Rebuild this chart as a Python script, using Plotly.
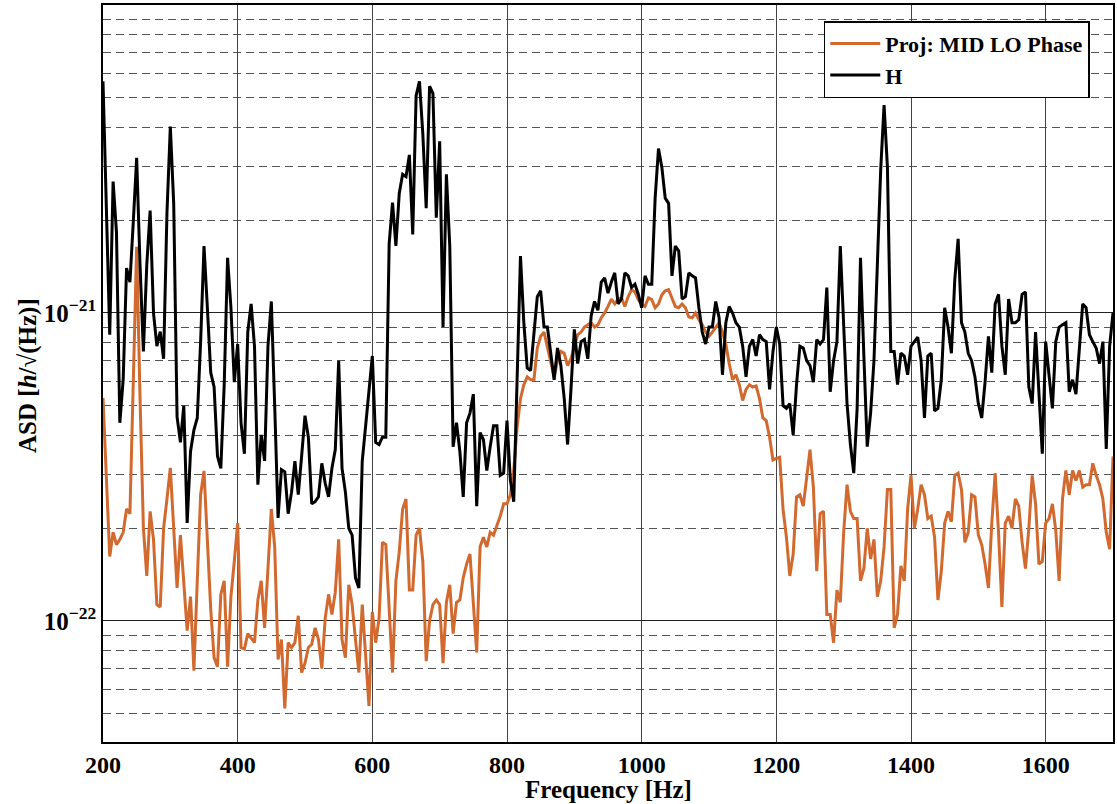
import plotly.graph_objects as go

# Frequency grid [Hz]
freq = list(range(200, 1705, 5))

# ASD values in units of 1e-22 h/sqrt(Hz)
asd_h = [
    56.5, 21.9, 8.5, 26.7, 18.3, 4.4, 6.1, 14.0, 12.6, 19.8,
    31.9, 14.3, 7.5, 14.3, 21.5, 10.0, 7.8, 8.7, 7.1, 21.2,
    40.3, 22.7, 4.6, 3.8, 5.0, 2.08, 3.55, 4.17, 4.56, 8.07,
    16.5, 10.4, 6.4, 5.75, 3.43, 3.13, 5.85, 15.1, 10.4, 5.96,
    7.93, 4.4, 3.49, 8.67, 10.7, 7.8, 2.77, 4.02, 3.31, 7.8,
    10.9, 5.0, 2.16, 3.1, 3.05, 2.23, 2.62, 3.3, 2.57, 3.43,
    4.64, 3.95, 2.4, 2.44, 2.53, 3.25, 2.8, 2.53, 3.13, 3.6,
    7.0, 3.13, 2.62, 2.0, 1.9, 1.38, 1.28, 3.3, 4.25, 5.5,
    7.25, 3.8, 3.74, 3.95, 3.95, 16.8, 22.8, 16.5, 24.5, 28.2,
    27.7, 32.6, 18.0, 50.8, 56.5, 38.1, 21.9, 54.5, 51.7, 20.4,
    36.1, 9.0, 28.2, 16.5, 3.68, 4.4, 3.55, 2.53, 4.4, 4.73,
    5.45, 2.36, 4.09, 3.88, 3.08, 3.68, 4.3, 4.3, 2.97, 3.02,
    4.47, 2.86, 2.44, 6.07, 15.3, 9.3, 6.63, 6.5, 8.67, 11.3,
    11.8, 9.0, 9.0, 7.5, 6.07, 7.7, 6.75, 5.27, 3.74, 5.65,
    8.85, 6.85, 8.07, 8.2, 7.1, 9.8, 10.9, 10.2, 12.6, 13.0,
    11.6, 12.6, 13.5, 10.7, 11.1, 13.5, 13.2, 12.1, 12.4, 11.5,
    10.4, 13.2, 12.4, 12.4, 23.6, 34.2, 29.7, 23.6, 22.7, 13.2,
    16.5, 15.9, 11.1, 11.3, 13.5, 13.2, 13.0, 10.4, 8.67, 7.93,
    9.0, 9.0, 10.9, 9.65, 6.3, 9.3, 10.5, 10.0, 9.3, 9.0,
    7.8, 6.2, 7.8, 8.2, 7.25, 8.5, 8.2, 8.07, 5.65, 7.5,
    9.0, 7.93, 5.0, 4.9, 5.08, 4.02, 5.85, 7.8, 7.7, 7.0,
    6.75, 5.96, 8.2, 7.93, 8.2, 12.1, 5.55, 7.0, 8.07, 16.5,
    8.67, 5.08, 3.74, 3.02, 4.9, 15.1, 7.25, 3.68, 4.73, 7.0,
    14.3, 29.2, 47.3, 29.7, 7.5, 7.5, 5.85, 7.4, 7.25, 6.3,
    7.8, 8.07, 8.35, 7.0, 4.56, 7.25, 7.4, 4.81, 4.9, 6.07,
    10.4, 9.0, 7.4, 12.8, 17.4, 9.3, 8.67, 7.4, 7.0, 6.2,
    5.08, 4.56, 5.96, 8.4, 6.4, 10.7, 11.5, 7.8, 6.3, 11.1,
    9.3, 9.3, 9.5, 11.5, 11.7, 5.75, 5.08, 8.67, 5.45, 3.49,
    8.07, 6.3, 4.9, 8.07, 9.0, 9.15, 9.3, 5.55, 6.07, 5.45,
    7.5, 10.7, 10.4, 8.5, 8.07, 7.7, 6.85, 8.07, 3.62, 7.8,
    10.0,
]

asd_proj = [
    5.3, 2.9, 1.62, 1.94, 1.77, 1.84, 1.94, 2.31, 2.23, 6.0,
    16.4, 5.3, 2.0, 1.40, 2.27, 1.84, 1.13, 1.11, 2.0, 2.49,
    3.14, 2.0, 1.28, 1.90, 1.33, 0.93, 1.20, 0.69, 1.35, 2.57,
    3.07, 1.84, 1.09, 0.76, 0.71, 1.22, 1.35, 0.71, 1.20, 1.56,
    2.08, 0.82, 0.81, 0.91, 0.88, 0.85, 1.17, 1.35, 0.95, 1.45,
    2.31, 1.74, 0.75, 0.87, 0.52, 0.85, 0.82, 0.85, 1.04, 0.68,
    0.73, 0.82, 0.84, 0.95, 0.87, 0.70, 1.02, 1.22, 1.05, 1.24,
    1.84, 0.87, 0.76, 1.31, 1.13, 0.87, 0.68, 1.13, 0.76, 0.53,
    1.07, 0.85, 1.02, 1.8, 1.77, 1.13, 0.68, 1.35, 1.68, 2.31,
    2.49, 1.26, 1.26, 1.9, 2.0, 1.56, 0.74, 1.0, 1.13, 1.17,
    1.13, 0.73, 1.15, 1.31, 0.91, 1.15, 1.17, 1.38, 1.53, 1.65,
    1.17, 0.79, 1.74, 1.87, 1.74, 1.94, 1.9, 2.04, 2.19, 2.4,
    2.4, 2.57, 3.08, 4.25, 5.27, 5.85, 6.2, 6.07, 6.07, 7.7,
    8.4, 8.67, 7.8, 7.0, 6.2, 7.0, 7.5, 7.4, 6.75, 7.1,
    7.8, 8.5, 8.67, 9.0, 9.15, 9.3, 9.0, 9.15, 9.65, 10.0,
    10.5, 11.1, 10.7, 11.1, 11.2, 10.5, 11.3, 11.9, 11.7, 11.05,
    10.7, 10.5, 11.2, 11.05, 10.4, 10.7, 11.45, 11.8, 11.9, 11.2,
    10.5, 10.4, 10.7, 10.4, 9.7, 9.65, 10.0, 9.5, 9.15, 8.67,
    8.4, 8.67, 9.0, 9.3, 8.67, 7.93, 6.85, 6.07, 6.3, 5.85,
    5.2, 5.65, 5.85, 5.75, 5.8, 5.27, 4.56, 4.47, 3.95, 3.33,
    3.37, 3.4, 2.3, 1.87, 1.4, 1.65, 2.53, 2.57, 2.36, 2.97,
    3.6, 2.72, 1.45, 2.23, 2.27, 1.05, 1.05, 0.85, 1.26, 1.15,
    1.94, 2.77, 2.27, 2.15, 2.15, 1.35, 1.48, 2.0, 1.59, 1.84,
    1.2, 1.35, 1.74, 2.67, 2.67, 0.95, 1.05, 1.51, 1.35, 2.31,
    2.97, 2.0, 2.31, 2.77, 2.57, 2.15, 2.19, 1.87, 1.17, 1.45,
    2.08, 2.27, 2.1, 2.97, 3.02, 2.67, 1.8, 1.94, 2.57, 2.53,
    1.9, 1.77, 1.53, 1.28, 2.08, 3.02, 1.94, 1.11, 2.08, 2.19,
    2.0, 2.49, 2.36, 1.8, 1.48, 2.0, 2.97, 2.4, 1.53, 1.56,
    2.08, 2.15, 2.4, 1.97, 1.35, 2.49, 3.08, 2.57, 3.08, 2.86,
    3.08, 2.72, 2.77, 2.77, 3.25, 2.97, 2.77, 2.49, 1.94, 1.71,
    3.42,
]

UNIT = 1e-22
x_ticks = [200, 400, 600, 800, 1000, 1200, 1400, 1600]
y_major = [1e-22, 1e-21]
y_major_text = ["10<sup>\u221222</sup>", "10<sup>\u221221</sup>"]
y_minor = [m * d for d in (1e-23, 1e-22, 1e-21) for m in range(2, 10)] + [1e-20]

FONT = "Liberation Serif"
ORANGE = "#D2692F"

fig = go.Figure()
fig.add_trace(go.Scatter(
    x=freq, y=[v * UNIT for v in asd_proj], mode="lines",
    name="Proj: MID LO Phase", line=dict(color=ORANGE, width=3),
))
fig.add_trace(go.Scatter(
    x=freq, y=[v * UNIT for v in asd_h], mode="lines",
    name="H", line=dict(color="black", width=3),
))

fig.update_layout(
    width=1117, height=804,
    margin=dict(l=103, r=4, t=5, b=62, autoexpand=False),
    paper_bgcolor="white", plot_bgcolor="white",
    font=dict(family=FONT, size=24, color="black", weight="bold"),
    showlegend=True,
    legend=dict(
        x=0.977, y=0.978, xanchor="right", yanchor="top",
        bgcolor="white", bordercolor="black", borderwidth=1.5,
        font=dict(family=FONT, size=22, color="black", weight="bold"),
        tracegroupgap=0, itemwidth=50,
    ),
)

fig.update_xaxes(
    range=[200, 1700], tickvals=x_ticks,
    showgrid=True, gridcolor="#444444", gridwidth=1,
    showline=True, linecolor="black", linewidth=1.5, mirror=True,
    ticks="", zeroline=False, automargin=False,
    tickfont=dict(family=FONT, size=24, color="black", weight="bold"),
    ticklabelstandoff=0,
)
fig.update_yaxes(
    type="log", range=[-22.393, -20],
    tickmode="array", tickvals=y_major, ticktext=y_major_text,
    showgrid=True, gridcolor="#222222", gridwidth=1,
    showline=True, linecolor="black", linewidth=1.5, mirror=True,
    ticks="", zeroline=False, automargin=False,
    tickfont=dict(family=FONT, size=25, color="black", weight="bold"),
    minor=dict(tickmode="array", tickvals=y_minor, showgrid=True,
               gridcolor="#555555", gridwidth=1, griddash="8px,5px", ticks=""),
)

fig.add_annotation(
    text="Frequency [Hz]", xref="paper", yref="paper",
    x=0.5, y=-0.065, xanchor="center", yanchor="middle", showarrow=False,
    font=dict(family=FONT, size=25, color="black", weight="bold"),
)
fig.add_annotation(
    text="ASD [<i>h</i>/\u221a(Hz)]", xref="paper", yref="paper",
    x=-0.0743, y=0.498, xanchor="center", yanchor="middle", showarrow=False,
    textangle=-90,
    font=dict(family=FONT, size=25, color="black", weight="bold"),
)

fig.write_html(
    "out.html",
    config={"displayModeBar": False},
    post_script="document.body.style.margin='0px';document.body.style.overflow='hidden';",
)
